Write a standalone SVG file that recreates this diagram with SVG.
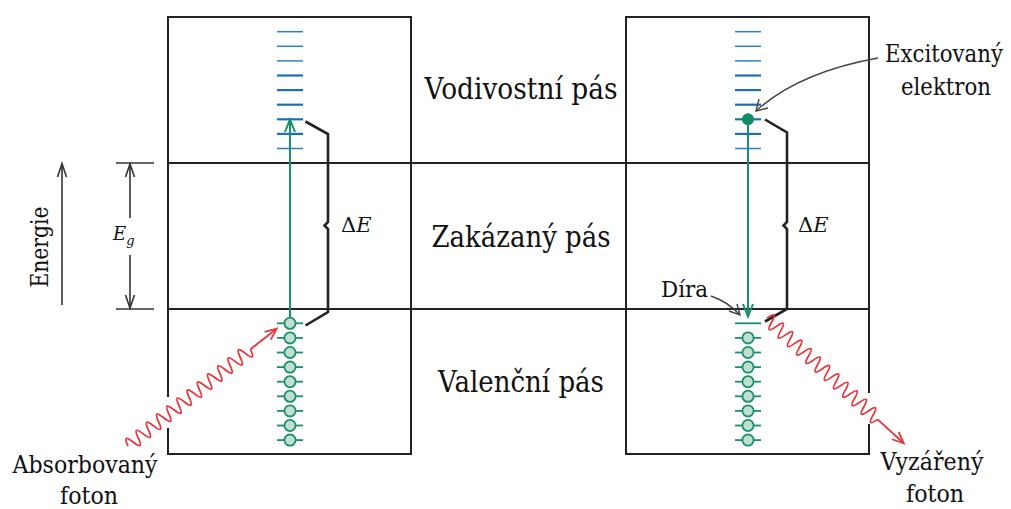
<svg xmlns="http://www.w3.org/2000/svg" width="1011" height="509" viewBox="0 0 1011 509">
<style>
.frame{fill:none;stroke:#222;stroke-width:2}
.brace{fill:none;stroke:#222;stroke-width:2.6;stroke-linejoin:miter}
.blue{stroke:#2b80c4;stroke-width:1.5}
.blue2{stroke:#1a6fb5;stroke-width:2.2}
.grn{stroke:#1a8f6c;stroke-width:2;fill:none}
.red{stroke:#e8353c;stroke-width:1.8;fill:none}
.ptr{stroke:#444;stroke-width:1.4;fill:none}
.axis{stroke:#333;stroke-width:1.6;fill:none}
text{fill:#111}
.big{font-size:30px;text-anchor:middle}
.mid{font-size:24px;text-anchor:middle}
.math{font-style:italic}
</style>
<defs>
<g id="circ"><line x1="-13" y1="0" x2="13" y2="0" stroke="#1a8f6c" stroke-width="1.8"/><circle r="5.6" fill="#bfe0cf" stroke="#1a8f6c" stroke-width="1.8"/></g>
<line id="bl" class="blue" x1="-13" y1="0" x2="13" y2="0"/>
<line id="bl2" class="blue2" x1="-13" y1="0" x2="13" y2="0"/>
<path id="wave" d="M0,0 q3.25,-14 6.5,0 t6.5,0 t6.5,0 t6.5,0 t6.5,0 t6.5,0 t6.5,0 t6.5,0 t6.5,0 t6.5,0 t6.5,0 t6.5,0 t6.5,0 t6.5,0 t6.5,0 t6.5,0 t6.5,0 t6.5,0 t6.5,0 t6.5,0 t6.5,0 t6.5,0 t6.5,0 t6.5,0"/>
</defs>

<g id="left-box">
<path class="frame" d="M168,397 V17 H411 V454 H168 V428"/>
<line class="frame" x1="168" y1="163" x2="626" y2="163"/>
<line class="frame" x1="168" y1="309" x2="626" y2="309"/>
</g>
<g id="right-box">
<path class="frame" d="M869,393 V17 H626 V454 H869 V424"/>
<line class="frame" x1="626" y1="163" x2="869" y2="163"/>
<line class="frame" x1="626" y1="309" x2="869" y2="309"/>
</g>

<g id="left-conduction-levels" transform="translate(290,0)">
<use href="#bl" y="31.7"/><use href="#bl" y="46.3"/><use href="#bl" y="60.9"/><use href="#bl2" y="75.5"/><use href="#bl2" y="90.1"/><use href="#bl2" y="104.7"/><use href="#bl2" y="119.3"/><use href="#bl2" y="133.9"/><use href="#bl" y="148.5"/>
</g>
<g id="right-conduction-levels" transform="translate(748,0)">
<use href="#bl" y="31.7"/><use href="#bl" y="46.3"/><use href="#bl" y="60.9"/><use href="#bl2" y="75.5"/><use href="#bl2" y="90.1"/><use href="#bl2" y="104.7"/><use href="#bl2" y="119.3"/><use href="#bl2" y="133.9"/><use href="#bl" y="148.5"/>
</g>

<g id="left-valence-levels" transform="translate(290,0)">
<use href="#circ" y="323.3"/><use href="#circ" y="337.9"/><use href="#circ" y="352.5"/><use href="#circ" y="367.1"/><use href="#circ" y="381.7"/><use href="#circ" y="396.3"/><use href="#circ" y="410.9"/><use href="#circ" y="425.5"/><use href="#circ" y="440.1"/>
</g>
<g id="right-valence-levels" transform="translate(748,0)">
<line x1="-13" y1="323.3" x2="13" y2="323.3" stroke="#1a8f6c" stroke-width="1.8"/>
<use href="#circ" y="337.9"/><use href="#circ" y="352.5"/><use href="#circ" y="367.1"/><use href="#circ" y="381.7"/><use href="#circ" y="396.3"/><use href="#circ" y="410.9"/><use href="#circ" y="425.5"/><use href="#circ" y="440.1"/>
</g>

<g id="electron">
<circle cx="748" cy="119.3" r="6" fill="#0e8c64"/>
</g>

<g id="connectors">
<line class="grn" x1="290" y1="318" x2="290" y2="121"/>
<path class="grn" d="M285,132 L290,119.5 L295,132"/>
<line class="grn" x1="748" y1="125" x2="748" y2="315"/>
<path class="grn" d="M743,304 L748,316.5 L753,304"/>
<path class="brace" d="M305.5,121.5 L328,134 V222 L324.5,225.5 L328,229 V312 L305.5,325.5"/>
<path class="brace" d="M765,119.5 L787,132.5 V222 L783.5,225.5 L787,229 V309 L765,321.5"/>
<g transform="translate(128,446) rotate(-38.3)">
<use href="#wave" class="red"/>
<line class="red" x1="156" y1="0" x2="189" y2="0"/>
<path class="red" d="M178,-5 L189.5,0 L178,5"/>
</g>
<g transform="translate(767,318) rotate(42.5)">
<use href="#wave" class="red" transform="scale(0.962,1)"/>
<line class="red" x1="150" y1="0" x2="185" y2="0"/>
<path class="red" d="M174,-5 L185.5,0 L174,5"/>
</g>
<path class="ptr" d="M878,58 Q800,72 757,110"/>
<path class="ptr" d="M759,99 L756,111 L768,108"/>
<path class="ptr" d="M711,296 Q728,302 739,314"/>
<path class="ptr" d="M729,311 L740,315 L737,304"/>
<line class="axis" x1="62" y1="305" x2="62" y2="164"/>
<path class="axis" d="M57.5,177 L62,163.5 L66.5,177"/>
<line class="axis" x1="116" y1="163" x2="154" y2="163"/>
<line class="axis" x1="116" y1="309" x2="154" y2="309"/>
<line class="axis" x1="130" y1="164" x2="130" y2="218"/>
<line class="axis" x1="130" y1="255" x2="130" y2="308"/>
<path class="axis" d="M125.5,177 L130,164 L134.5,177"/>
<path class="axis" d="M125.5,295 L130,308 L134.5,295"/>
</g>

<g id="labels" font-family="DejaVu Serif, serif">
<text class="big" x="521" y="99" textLength="193" lengthAdjust="spacingAndGlyphs">Vodivostní pás</text>
<text class="big" x="521" y="247" textLength="179" lengthAdjust="spacingAndGlyphs">Zakázaný pás</text>
<text class="big" x="521" y="392" textLength="166" lengthAdjust="spacingAndGlyphs">Valenční pás</text>
<text class="mid" x="944" y="62" textLength="118" lengthAdjust="spacingAndGlyphs">Excitovaný</text>
<text class="mid" x="946" y="95" textLength="90" lengthAdjust="spacingAndGlyphs">elektron</text>
<text x="661" y="297" font-size="23" textLength="47" lengthAdjust="spacingAndGlyphs">Díra</text>
<text class="mid" x="85" y="473" textLength="145" lengthAdjust="spacingAndGlyphs">Absorbovaný</text>
<text class="mid" x="89" y="504" textLength="58" lengthAdjust="spacingAndGlyphs">foton</text>
<text class="mid" x="932" y="470" textLength="103" lengthAdjust="spacingAndGlyphs">Vyzářený</text>
<text class="mid" x="935" y="502" textLength="58" lengthAdjust="spacingAndGlyphs">foton</text>
<text font-size="24" text-anchor="middle" transform="translate(48,247) rotate(-90)" textLength="81" lengthAdjust="spacingAndGlyphs">Energie</text>
<text class="math" x="113" y="240" font-size="18">E<tspan font-size="13" dy="5">g</tspan></text>
<text x="341" y="232" font-size="21">Δ<tspan class="math">E</tspan></text>
<text x="798" y="232" font-size="21">Δ<tspan class="math">E</tspan></text>
</g>
</svg>
